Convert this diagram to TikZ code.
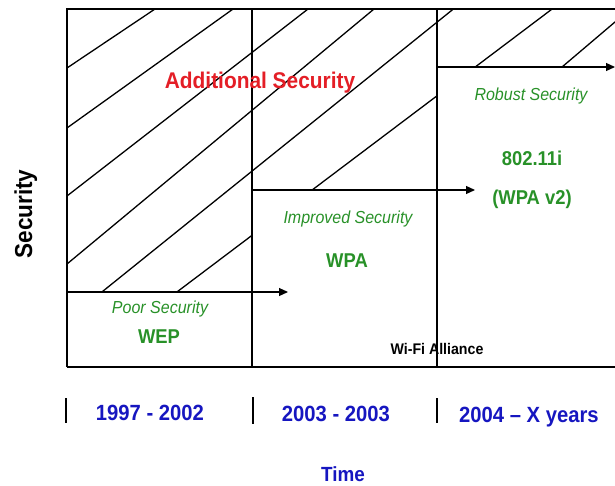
\documentclass[tikz,border=0pt]{standalone}
\usepackage{fontspec}
\setmainfont{Liberation Sans}[FakeStretch=0.92]
\usetikzlibrary{arrows.meta}
\definecolor{secred}{RGB}{228,30,38}
\definecolor{secgreen}{RGB}{40,145,40}
\definecolor{yearblue}{RGB}{22,22,192}

\tikzset{
  frameline/.style={line width=1.3pt, black},
  hatchline/.style={line width=1.3pt, black},
  steparrow/.style={line width=1.2pt, black, -{Triangle[length=9pt,width=8pt]}},
  tickline/.style={line width=1.1pt, black},
  lbl/.style={inner sep=0pt, anchor=base},
  levelname/.style={lbl, text=secgreen, font=\fontsize{17.4}{20}\selectfont\itshape},
  protocol/.style={lbl, text=secgreen, font=\fontsize{20}{24}\selectfont\bfseries},
  period/.style={lbl, text=yearblue, font=\fontsize{22}{26}\selectfont\bfseries},
}

\begin{document}
\begin{tikzpicture}[x=1pt,y=-1pt]
  \useasboundingbox (0,0) rectangle (615,485);

  % corners of the staircase
  \coordinate (tl) at (67,9);
  \coordinate (tr) at (615,9);
  \coordinate (bl) at (67,367);
  \coordinate (br) at (615,367);
  \coordinate (c2t) at (252,9);
  \coordinate (c2b) at (252,367);
  \coordinate (c3t) at (437,9);
  \coordinate (c3b) at (437,367);
  \coordinate (s1a) at (67,292);
  \coordinate (s1b) at (288,292);
  \coordinate (s2a) at (252,190);
  \coordinate (s2b) at (475,190);
  \coordinate (s3a) at (437,67);
  \coordinate (s3b) at (615,67);

  % hatching above the steps
  \begin{scope}
    \clip (67,9) -- (615,9) -- (615,67) -- (437,67) -- (437,190)
          -- (252,190) -- (252,292) -- (67,292) -- cycle;
    \draw[hatchline] (47,81.4) -- (175,-4.4);
    \draw[hatchline] (47,142.3) -- (253,-5.3);
    \draw[hatchline] (47,211.5) -- (328,-6.5);
    \draw[hatchline] (47,280.6) -- (394,-7.6);
    \draw[hatchline] (82,308) -- (472,-6);
    \draw[hatchline] (157,307) -- (572,-6);
    \draw[hatchline] (542,84) -- (635,5);
  \end{scope}

  % frame
  \draw[frameline] (bl) -- (tl) -- (tr);
  \draw[frameline] (c2t) -- (c2b);
  \draw[frameline] (c3t) -- (c3b);
  \draw[frameline] (bl) -- (br);

  % steps
  \draw[steparrow] (s1a) -- (s1b);
  \draw[steparrow] (s2a) -- (s2b);
  \draw[steparrow] (s3a) -- (s3b);

  % labels inside the chart
  \node[lbl, text=secred, font=\fontsize{22.7}{26}\selectfont\bfseries]
    (add) at (260,88) {Additional Security};
  \node[levelname] (robust) at (531,100) {Robust Security};
  \node[protocol] (ieee) at (532,165) {802.11i};
  \node[protocol] (wpa2) at (532,204) {(WPA v2)};
  \node[levelname] (improved) at (348,223) {Improved Security};
  \node[protocol] (wpa) at (347,267) {WPA};
  \node[levelname] (poor) at (160,313) {Poor Security};
  \node[protocol] (wep) at (159,343) {WEP};
  \node[lbl, font=\fontsize{15.4}{18}\selectfont\bfseries]
    (wifi) at (437,354) {Wi-Fi Alliance};

  % axis labels
  \node[lbl, rotate=90, font=\fontsize{24.5}{28}\selectfont\bfseries]
    (ylab) at (32,214) {Security};

  % time axis
  \coordinate (t1a) at (66,398);  \coordinate (t1b) at (66,423);
  \coordinate (t2a) at (253,397); \coordinate (t2b) at (253,424);
  \coordinate (t3a) at (437,398); \coordinate (t3b) at (437,423);
  \draw[tickline] (t1a) -- (t1b);
  \draw[tickline] (t2a) -- (t2b);
  \draw[tickline] (t3a) -- (t3b);
  \node[period] (p1) at (150,420) {1997 - 2002};
  \node[period] (p2) at (336,421) {2003 - 2003};
  \node[period] (p3) at (529,422) {2004 – X years};
  \node[period, font=\fontsize{20.5}{24}\selectfont\bfseries]
    (time) at (343,481.5) {Time};
\end{tikzpicture}
\end{document}
